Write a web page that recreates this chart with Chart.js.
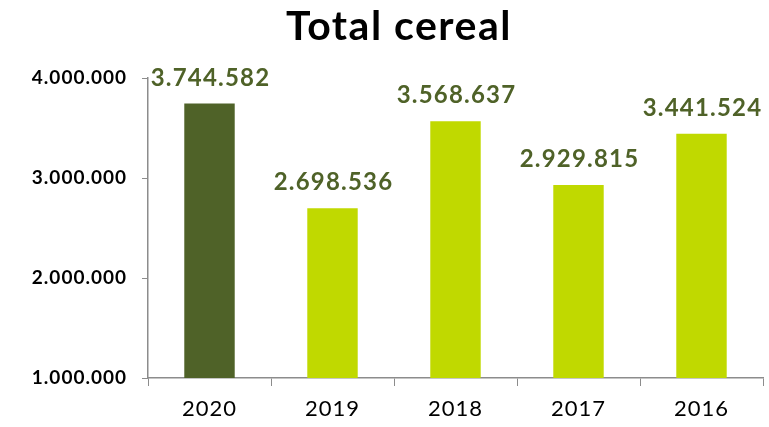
<!DOCTYPE html>
<html>
<head>
<meta charset="utf-8">
<script src="https://cdn.jsdelivr.net/npm/chart.js@4"></script>
<style>
  html, body { margin: 0; padding: 0; background: #fff; }
  #wrap { width: 769px; height: 427px; }
</style>
</head>
<body>
<div id="wrap"><canvas id="cerealChart" width="769" height="427"></canvas></div>
<script>
// Chart data
const years = ['2020', '2019', '2018', '2017', '2016'];
const totals = [3744582, 2698536, 3568637, 2929815, 3441524];
const yTicks = [1000000, 2000000, 3000000, 4000000];

const DARK = '#4F6228';
const LIME = '#C0D900';
const AXIS = '#8C8C8C';
const FONT = 'Lato, "Open Sans", sans-serif';

// 3744582 -> "3.744.582"
function dotted(n) {
    return String(Math.round(n)).replace(/\B(?=(\d{3})+(?!\d))/g, '.');
}

// Slightly wider letter spacing, closer to the original's font
const spacing = {
    id: 'spacing',
    beforeDraw(chart) {
        chart.ctx.letterSpacing = '1px';
    }
};

// Title drawn at a fixed spot above the plot
const titlePlugin = {
    id: 'fixedTitle',
    afterDraw(chart) {
        const ctx = chart.ctx;
        ctx.save();
        ctx.letterSpacing = '1.5px';
        ctx.font = 'bold 41px ' + FONT;
        ctx.fillStyle = '#000';
        ctx.textAlign = 'center';
        ctx.textBaseline = 'alphabetic';
        ctx.fillText('Total cereal', 399, 40);
        ctx.restore();
    }
};

// Value labels above each bar
const valueLabels = {
    id: 'valueLabels',
    afterDatasetsDraw(chart) {
        const ctx = chart.ctx;
        const meta = chart.getDatasetMeta(0);
        ctx.save();
        ctx.letterSpacing = '1.2px';
        ctx.font = 'bold 24px ' + FONT;
        ctx.fillStyle = DARK;
        ctx.textAlign = 'center';
        ctx.textBaseline = 'alphabetic';
        meta.data.forEach((bar, i) => {
            ctx.fillText(dotted(totals[i]), bar.x + 1, bar.y - 18);
        });
        ctx.restore();
    }
};

new Chart(document.getElementById('cerealChart').getContext('2d'), {
    type: 'bar',
    data: {
        labels: years,
        datasets: [{
            data: totals,
            backgroundColor: [DARK, LIME, LIME, LIME, LIME],
            borderWidth: 0,
            barPercentage: 0.41,
            categoryPercentage: 1
        }]
    },
    options: {
        responsive: false,
        animation: false,
        layout: {
            padding: { top: 78, right: 6, bottom: 0, left: 0 }
        },
        plugins: {
            legend: { display: false },
            title: { display: false },
            tooltip: { enabled: false }
        },
        scales: {
            x: {
                grid: {
                    offset: true,
                    drawOnChartArea: false,
                    drawTicks: true,
                    tickLength: 8,
                    color: AXIS
                },
                border: { color: AXIS, width: 1.5 },
                ticks: {
                    color: '#000',
                    padding: 10,
                    font: { family: FONT, size: 22 }
                },
                afterFit(scale) { scale.height = 49; }
            },
            y: {
                min: 1000000,
                max: 4000000,
                afterBuildTicks(scale) {
                    scale.ticks = yTicks.map(v => ({ value: v }));
                },
                grid: {
                    drawOnChartArea: false,
                    drawTicks: true,
                    tickLength: 6,
                    color: AXIS
                },
                border: { color: AXIS, width: 1.5 },
                ticks: {
                    color: '#000',
                    padding: 15,
                    font: { family: FONT, size: 19, weight: 'bold' },
                    callback: v => dotted(v)
                },
                afterFit(scale) { scale.width = 148; }
            }
        }
    },
    plugins: [spacing, titlePlugin, valueLabels]
});
</script>
</body>
</html>
